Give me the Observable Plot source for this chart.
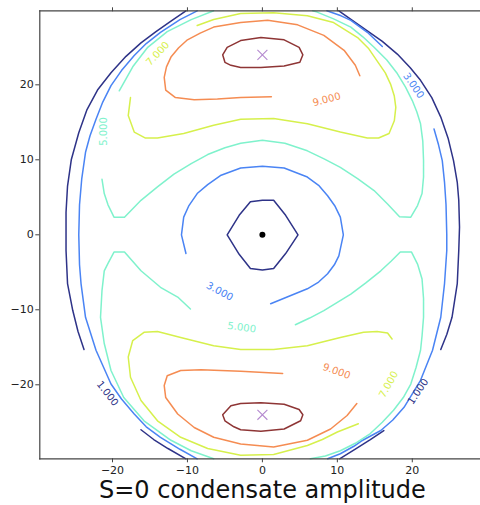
<!DOCTYPE html>
<html><head><meta charset="utf-8">
<script src="https://cdn.jsdelivr.net/npm/d3@7"></script>
<script src="https://cdn.jsdelivr.net/npm/@observablehq/plot@0.6"></script>
<style>html,body{margin:0;padding:0;background:#fff}</style>
</head><body><div id="chart"></div>
<script>
// contour levels and their colours
const levels = [1, 3, 5, 7, 9, 11];
const levelColors = ["#2e3388", "#4a84f4", "#7ff2cc", "#d6f04c", "#f58c52", "#8e3535"];

// contour segments (data coordinates)
const contour1 = [
  [[-10.2,29.87],[-12.2,28.5],[-14.2,27.1],[-16.2,25.6],[-18.2,23.8],[-20.2,21.6],[-22,19.3],[-23.4,16.7],[-24.5,13.6],[-25.5,10],[-26,6.5],[-26.2,3],[-26.2,-2.1],[-26,-6.5],[-25.3,-10.1],[-24.6,-12.9],[-23.8,-15.3]],
  [[-16.2,-26],[-14.5,-27.3],[-12.6,-28.5],[-10.2,-29.87]],
  [[10.2,29.87],[12,28.6],[14,27.2],[16,25.8],[18,24.1],[19.7,22.3],[21.1,20.6],[22.6,18.3],[23.8,15.7],[24.8,12.8],[25.5,9.9],[26,7],[26.2,4.6],[26.3,1],[26.2,-2.1],[26,-6.5],[25.3,-11],[24.6,-13.3],[23.8,-15.3]],
  [[16.2,-26.1],[14.4,-27.3],[12.5,-28.5],[10.3,-29.87]],
  [[0,4.6],[-1.6,4.4],[-3.1,2.6],[-4.7,0],[-3.1,-2.6],[-1.6,-4.5],[0,-4.7],[1.5,-4.5],[3.1,-2.5],[4.75,0],[3.1,2.6],[1.5,4.6],[0,4.6]]
];
const contour3 = [
  [[-8.7,29.87],[-11,28.7],[-13.6,27],[-15.5,25.5],[-17.1,23.9],[-18.8,21.9],[-20.2,19.9],[-21.3,17.7],[-22.2,15.4],[-23,13.2],[-23.6,11],[-24.1,7.5],[-24.4,4],[-24.5,0],[-24.4,-4],[-24.2,-6.5],[-23.6,-11],[-22.2,-15.4],[-20.2,-19.9],[-18.8,-21.9],[-17.1,-23.9],[-15.5,-25.6],[-13.6,-27],[-11,-28.6],[-8.7,-29.87]],
  [[8.6,29.87],[10.5,29.2],[11.8,28.6],[14,27],[16,25.1]],
  [[22.9,14.1],[23.5,12],[24,9.9],[24.3,7],[24.5,4],[24.6,0],[24.6,-2.1],[24.3,-6.5],[23.8,-11],[22.7,-15.4],[21.1,-19.4],[18.9,-23],[17.4,-24.7],[15.8,-26.1],[13.2,-27.5],[12.2,-28.2],[10.4,-29.2],[8.7,-29.87]],
  [[-10.2,-2.5],[-10.8,0],[-10.5,2.35],[-9.8,3.9],[-8.7,5.5],[-7.3,6.7],[-5.6,7.9],[-2.9,8.9],[0,9.15],[2.9,8.9],[6,7.7],[7.5,6.6],[8.7,5.2],[9.7,3.8],[10.4,2.35],[10.8,0],[10.2,-2.8],[9.6,-4],[8.7,-5.2],[7.5,-6.3],[6,-7.2],[3.3,-8.3],[1.1,-9.2]]
];
const contour5 = [
  [[-6.5,29.87],[-9.5,28.7],[-12.7,27.1],[-15.3,25],[-17.3,22.4],[-19.1,19.2]],
  [[-21.4,7.4],[-21.1,5.5],[-20.6,4],[-19.8,2.35],[-18.4,2.35],[-16.2,4.6],[-14,6.4],[-11.8,8.1],[-9.5,9.5],[-7.3,10.7],[-5,11.6],[-2.9,12.2],[0,12.6],[3,12.2],[6,11.2],[8.3,10.1],[10.4,9],[12.7,7.5],[14.9,5.9],[16.7,4.1],[18.3,2.4],[19.8,2.35],[20.7,3.9],[21.3,5.5],[21.5,7.7],[21.5,9.9],[21.4,12.5],[21.1,14.8],[20.6,16.4],[20,17.9],[19.1,19.7],[18,21.5],[16.6,23.3],[14.9,25],[13.4,26.4],[11.8,27.7],[9.5,28.8],[7.3,29.7],[6.7,29.87]],
  [[-9.6,-9.9],[-11.3,-8.3],[-13.6,-7],[-16.2,-4.8],[-18.4,-2.3],[-19.8,-2.3],[-20.6,-3.8],[-21.1,-4.8],[-21.4,-7.4],[-21.6,-11],[-21.1,-14.5],[-20.2,-18.1],[-18.5,-21.7],[-15.8,-24.8],[-12.2,-27.4],[-9.5,-28.8],[-6.5,-29.87]],
  [[4.4,-12],[6.3,-11.1],[8.2,-10.1],[10,-9],[11.8,-7.9],[13.8,-6.4],[15.8,-4.8],[17.2,-3.5],[18.4,-2.3],[19.9,-2.3],[20.7,-3.9],[21.3,-5.9],[21.5,-8.5],[21.5,-11],[21.3,-13.5],[21.1,-15.4],[20.5,-17.7],[19.8,-19.9],[18.8,-21.7],[17.5,-23.4],[16,-25],[14.4,-26.5],[12.4,-27.8],[10.4,-28.8],[8.4,-29.5],[6.4,-29.87]]
];
const contour7 = [
  [[-8.7,27.9],[-6.5,28.7],[-2.9,29.5],[1.5,29.6],[6,29.2],[9.5,28.3],[12.7,26.3],[14.2,24.8],[15.3,23.2],[16.4,21.6],[17.1,20.1],[17.6,18.5],[17.8,17],[17.6,15.2],[16.9,13.5],[15.5,12.9],[14,12.9],[12.2,13.3],[10.4,13.7],[6,14.8],[1.5,15.5],[-2.9,15.4],[-6.5,14.6],[-10.5,13.5],[-14,12.9],[-15.6,12.9],[-17.1,13.7],[-17.9,15.9],[-17.6,18.3]],
  [[12.8,-25.2],[10,-26.3],[8,-27.3],[6,-28.1],[1.5,-29.3],[-2.9,-29.4],[-7.3,-28.5],[-10.9,-27],[-14,-24.8],[-16.2,-22.1],[-17.6,-19],[-17.9,-16.3],[-17.3,-14.1],[-15.8,-13],[-14,-12.9],[-10.9,-13.7],[-6.5,-14.8],[-2.9,-15.3],[1.5,-15.3],[6,-14.8],[10.4,-13.7],[13.5,-13],[15.3,-12.9],[16.7,-13.1],[17.3,-13.9]]
];
const contour9 = [
  [[1.2,18.4],[-2.9,18.3],[-6,18.1],[-9.1,18],[-11.6,18.3],[-12.9,19.3],[-13.1,21],[-12.8,22.4],[-12.2,23.7],[-11.2,24.9],[-10,26],[-8.3,26.9],[-6.5,27.7],[-2.9,28.3],[0.7,28.6],[4.7,28],[8.2,26.6],[10.9,24.6],[12.4,22.6],[13,21.2]],
  [[2.7,-18.5],[-2.9,-18.2],[-8.2,-18],[-10.9,-18.1],[-12.7,-18.8],[-13.1,-20.1],[-12.9,-21.7],[-11.3,-23.9],[-9.1,-25.7],[-6.5,-27],[-2.9,-27.9],[1.5,-28.3],[6,-27.4],[9.1,-25.9],[11.3,-24.1],[12.6,-22.5]]
];
const contour11 = [
  [[-2.9,25.9],[-0.2,26.3],[2.9,26],[4.9,25],[5.4,24],[5,23],[2.9,22.5],[-0.2,22.3],[-2.9,22.3],[-4.2,22.6],[-5,23],[-5.3,24],[-4.7,25],[-2.9,25.9]],
  [[-2.9,-22.5],[-0.2,-22.4],[2.9,-22.6],[4.9,-23.3],[5.4,-24],[5.1,-24.8],[2.9,-25.9],[-0.2,-26.2],[-2.9,-26],[-3.8,-25.6],[-5,-24.8],[-5.3,-24],[-4.2,-22.8],[-2.9,-22.5]]
];

// contour labels
const labelText  = ["7.000","5.000","9.000","3.000","3.000","5.000","9.000","7.000","1.000","1.000"];
const labelLevel = [7, 5, 9, 3, 3, 5, 9, 7, 1, 1];
const labelX     = [-13.96, -21.16, 8.57, 20.17, -5.69, -2.76, 9.9, 16.84, 20.77, -20.67];
const labelY     = [24.17, 13.77, 18.04, 19.9, -7.56, -12.36, -18.2, -19.96, -20.9, -21.16];
const labelAngle = [-47, -90, -15, 55, 28, 8, 20, -61, -56, 52];

// markers
const centerX = [0], centerY = [0];
const crossX = [0, 0], crossY = [24, -24];

const xTicks = [-20, -10, 0, 10, 20];
const yTicks = [-20, -10, 0, 10, 20];
const xLabel = "S=0 condensate amplitude";

const rows = [];
[contour1, contour3, contour5, contour7, contour9, contour11].forEach((segs, li) =>
  segs.forEach((seg, si) => seg.forEach(([x, y]) => rows.push({x, y, level: levels[li], seg: li + "-" + si}))));
const labels = labelText.map((t, i) => ({text: t, level: labelLevel[i], x: labelX[i], y: labelY[i], angle: labelAngle[i]}));
const fmt = d => d < 0 ? "\u2212" + Math.abs(d) : String(d);

const chart = Plot.plot({
  width: 480, height: 505,
  marginLeft: 39.3, marginRight: 0, marginTop: 10.3, marginBottom: 46.7,
  x: {domain: [-29.7, 29.1]},
  y: {domain: [-29.87, 29.87]},
  color: {type: "ordinal", domain: levels, range: levelColors},
  style: {fontFamily: "'DejaVu Sans', sans-serif", fontSize: "11px", color: "#222", background: "#fff"},
  marks: [
    Plot.line(rows, {x: "x", y: "y", z: "seg", stroke: "level", strokeWidth: 1.5, strokeLinejoin: "round"}),
    Plot.text(labels, {x: "x", y: "y", text: "text", rotate: "angle", fill: "level", fontSize: 10}),
    Plot.dot(centerX.map((x, i) => ({x, y: centerY[i]})), {x: "x", y: "y", r: 3, fill: "black"}),
    Plot.dot(crossX.map((x, i) => ({x, y: crossY[i]})), {x: "x", y: "y", r: 4.6, symbol: "times", stroke: "#b489cf", strokeWidth: 1.1}),
    Plot.frame({anchor: "left", stroke: "#444", strokeWidth: 1.2}),
    Plot.frame({anchor: "top", stroke: "#444", strokeWidth: 1.2}),
    Plot.frame({anchor: "bottom", stroke: "#444", strokeWidth: 1.2}),
    Plot.axisX({ticks: xTicks, tickSize: 4, tickPadding: 3, tickFormat: fmt, label: null, stroke: "#444"}),
    Plot.axisX({anchor: "top", ticks: xTicks, tickSize: 4, tickFormat: () => "", label: null, stroke: "#444"}),
    Plot.axisY({ticks: yTicks, tickSize: 4, tickPadding: 2, tickFormat: fmt, label: null, stroke: "#444"}),
    Plot.text([xLabel], {x: () => 0, frameAnchor: "bottom", dy: 39, text: d => d, fontSize: 24, fill: "#111"})
  ]
});
document.getElementById("chart").appendChild(chart);
</script>
</body></html>
